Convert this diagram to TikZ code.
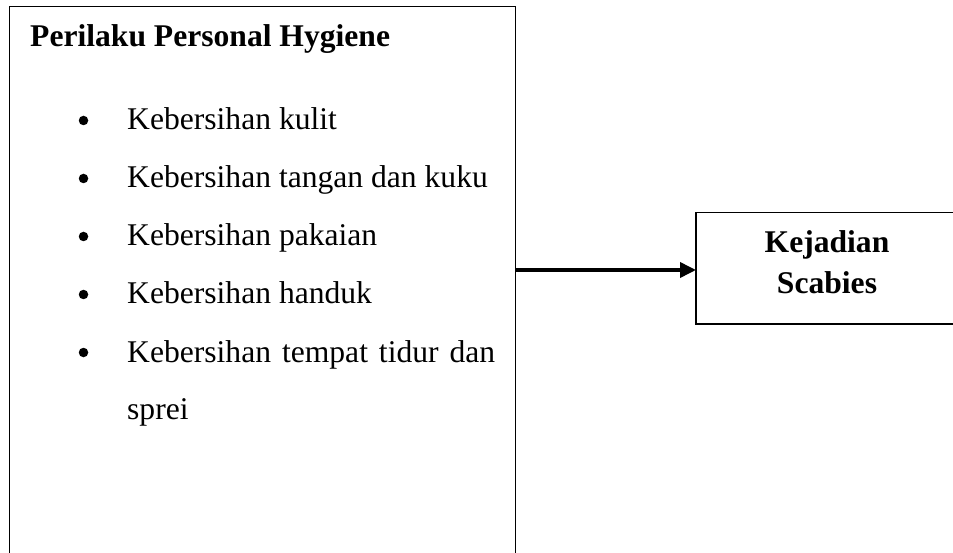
\documentclass[tikz,border=0pt]{standalone}
\usepackage{fontspec}
\setmainfont{Liberation Serif}
\usetikzlibrary{arrows.meta,positioning}

\begin{document}
\begin{tikzpicture}[
  x=1pt, y=-1pt,
  every node/.style={font=\fontsize{31.6}{58}\selectfont},
  frame/.style={draw, line width=1.4pt, inner sep=0pt, outer sep=0pt},
  item/.style={anchor=base west, inner sep=0pt, text width=368pt, align=justify},
  dot/.style={circle, fill, inner sep=0pt, minimum size=9.5pt},
  arrow/.style={-{Triangle[length=16pt, width=15pt]}, line width=3.6pt}
]
\clip (0,0) rectangle (953,553);
\node[frame, anchor=north west, minimum width=506pt, minimum height=640pt] (hygiene) at (9.7,6.7) {};
\node[anchor=base west, inner sep=0pt, font=\fontsize{31.6}{58}\selectfont\bfseries] (title) at (30,47) {Perilaku Personal Hygiene};
% daftar butir
\node[item] (kulit) at (127,130) {Kebersihan kulit};
\node[item] (tangan) at (127,188) {Kebersihan tangan dan kuku};
\node[item] (pakaian) at (127,246) {Kebersihan pakaian};
\node[item] (handuk) at (127,304) {Kebersihan handuk};
\node[item] (tidur) at (127,362) {Kebersihan tempat tidur dan sprei};
\node[dot] (dot1) at (83.5,120.5) {};
\node[dot] (dot2) at (83.5,178.5) {};
\node[dot] (dot3) at (83.5,236.5) {};
\node[dot] (dot4) at (83.5,294.5) {};
\node[dot] (dot5) at (83.5,352.5) {};
\node[frame, minimum width=262pt, minimum height=111.3pt, align=center,
  font=\fontsize{31.6}{41}\selectfont\bfseries] (scabies) at (827,268.4) {Kejadian\\Scabies\rule[-12pt]{0pt}{12pt}};
\draw[arrow] (hygiene.east |- 0,270) -- (scabies.west |- 0,270);
\end{tikzpicture}
\end{document}
